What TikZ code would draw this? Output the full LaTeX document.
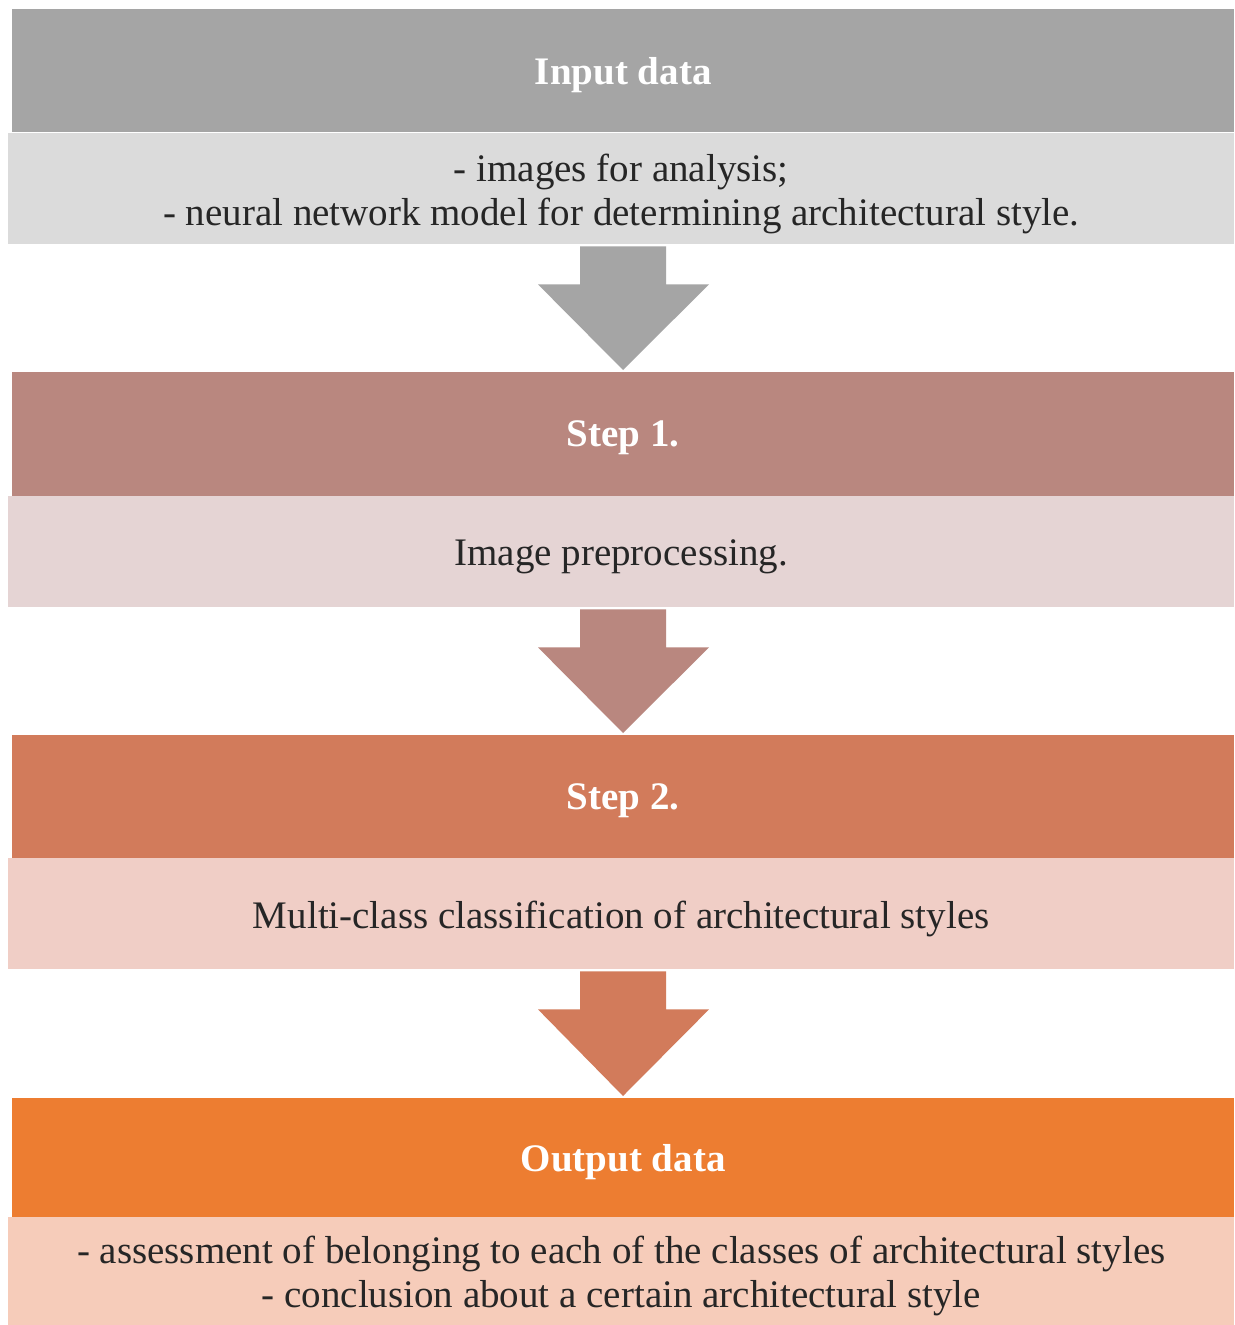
\documentclass[tikz,border=0pt]{standalone}
\usepackage{fontspec}
\setmainfont{Liberation Serif}
\usetikzlibrary{calc}
\definecolor{h1}{HTML}{A5A5A5}
\definecolor{b1}{HTML}{DBDBDB}
\definecolor{h2}{HTML}{B9877F}
\definecolor{b2}{HTML}{E5D4D4}
\definecolor{h3}{HTML}{D27B5B}
\definecolor{b3}{HTML}{F0CEC6}
\definecolor{h4}{HTML}{ED7D31}
\definecolor{b4}{HTML}{F6CCBA}
\tikzset{
  head/.style={anchor=north west, inner sep=0pt, minimum width=1222pt},
  body/.style={anchor=north west, inner sep=0pt, minimum width=1226pt},
  headtext/.style={inner sep=0pt, yshift=-4pt, text=white,
    font=\fontsize{39}{44}\selectfont\bfseries},
  bodytext/.style={inner sep=0pt, yshift=-5pt, text=black!85, align=center,
    font=\fontsize{39}{44}\selectfont},
}
\newcommand{\downarrowshape}[3]{% from node, to node, colour
  \fill[#3] let \p1=(#1.south), \p2=(#2.north) in
    (623pt,\y1-2pt) -- (666pt,\y1-2pt) -- (666pt,\y1-40pt) -- (709pt,\y1-40pt)
    -- (623pt,\y2+2pt) -- (538pt,\y1-40pt) -- (580pt,\y1-40pt) -- (580pt,\y1-2pt) -- cycle;}
\begin{document}
\begin{tikzpicture}[x=1pt,y=-1pt]
\useasboundingbox[fill=white] (0,0) rectangle (1234,1325);
% block 1
\node[head, fill=h1, minimum height=123pt, label={[headtext]center:Input data}] (H1) at (12,9) {};
\node[body, fill=b1, minimum height=111pt, label={[bodytext]center:{- images for analysis;\\- neural network model for determining architectural style.}}] (B1) at (8,133) {};
% block 2
\node[head, fill=h2, minimum height=124pt, label={[headtext]center:Step 1.}] (H2) at (12,372) {};
\node[body, fill=b2, minimum height=111pt, label={[bodytext]center:Image preprocessing.}] (B2) at (8,496) {};
% block 3
\node[head, fill=h3, minimum height=123pt, label={[headtext]center:Step 2.}] (H3) at (12,735) {};
\node[body, fill=b3, minimum height=111pt, label={[bodytext]center:Multi-class classification of architectural styles}] (B3) at (8,858) {};
% block 4
\node[head, fill=h4, minimum height=119pt, label={[headtext]center:Output data}] (H4) at (12,1098) {};
\node[body, fill=b4, minimum height=108pt, label={[bodytext]center:{- assessment of belonging to each of the classes of architectural styles\\- conclusion about a certain architectural style}}] (B4) at (8,1217) {};
% arrows
\downarrowshape{B1}{H2}{h1}
\downarrowshape{B2}{H3}{h2}
\downarrowshape{B3}{H4}{h3}
\end{tikzpicture}
\end{document}
